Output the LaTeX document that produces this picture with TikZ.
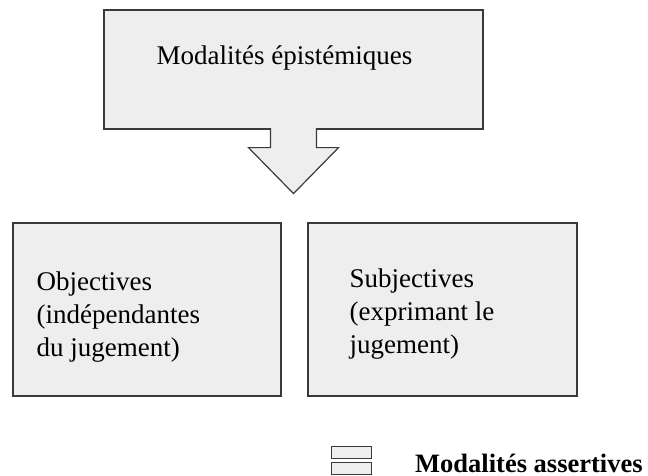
\documentclass[tikz,border=0pt]{standalone}
\usepackage{fontspec}
\setmainfont{Liberation Serif}
\usepackage{tikz}
\definecolor{boxfill}{HTML}{EEEEEE}
\definecolor{boxline}{HTML}{3A3A3A}
\begin{document}
\begin{tikzpicture}[x=1pt,y=-1pt,
    box/.style={draw=boxline,fill=boxfill,line width=1.2pt,inner sep=0pt},
    txt/.style={inner sep=0pt,anchor=base west,align=left,font=\fontsize{27}{33}\selectfont}]
    \useasboundingbox (0,0) rectangle (648,475);%
    % top box and its arrow
    \node[box,minimum width=379,minimum height=119] at (293.5,69.5) (epis) {};%
    \path[fill=boxfill,draw=boxline,line width=1.2pt,line join=miter]
      ([xshift=-23pt,yshift=1.5pt]epis.south) -- ++(0,19.5) -- ++(-22,0)
      -- ++(45,46) coordinate (tip) -- ++(45,-46) -- ++(-22,0)
      -- ++(0,-19.5);%
    \node[txt] at ([xshift=53pt,yshift=-55pt]epis.north west) (epislbl) {Modalités épistémiques};%
    % the two kinds (base = last line)
    \node[box,minimum width=268,minimum height=173] at (147,309.5) (obj) {};%
    \node[box,minimum width=269,minimum height=173] at (442.5,309.5) (subj) {};%
    \node[txt] at ([xshift=24pt,yshift=-134pt]obj.north west) (objlbl) {Objectives\\(indépendantes\\du jugement)};%
    \node[txt] at ([xshift=42pt,yshift=-131pt]subj.north west) (subjlbl) {Subjectives\\(exprimant le\\jugement)};%
    % legend
    \foreach \y/\n in {446/a, 462/b} {%
      \node[box,line width=1pt,minimum width=40,minimum height=12,anchor=north west] at (331,\y) (leg\n) {};%
    };%
    \node[txt,font=\fontsize{26.5}{33}\selectfont\bfseries] at (415,472) (leglbl) {Modalités assertives};%
  \end{tikzpicture}
\end{document}
